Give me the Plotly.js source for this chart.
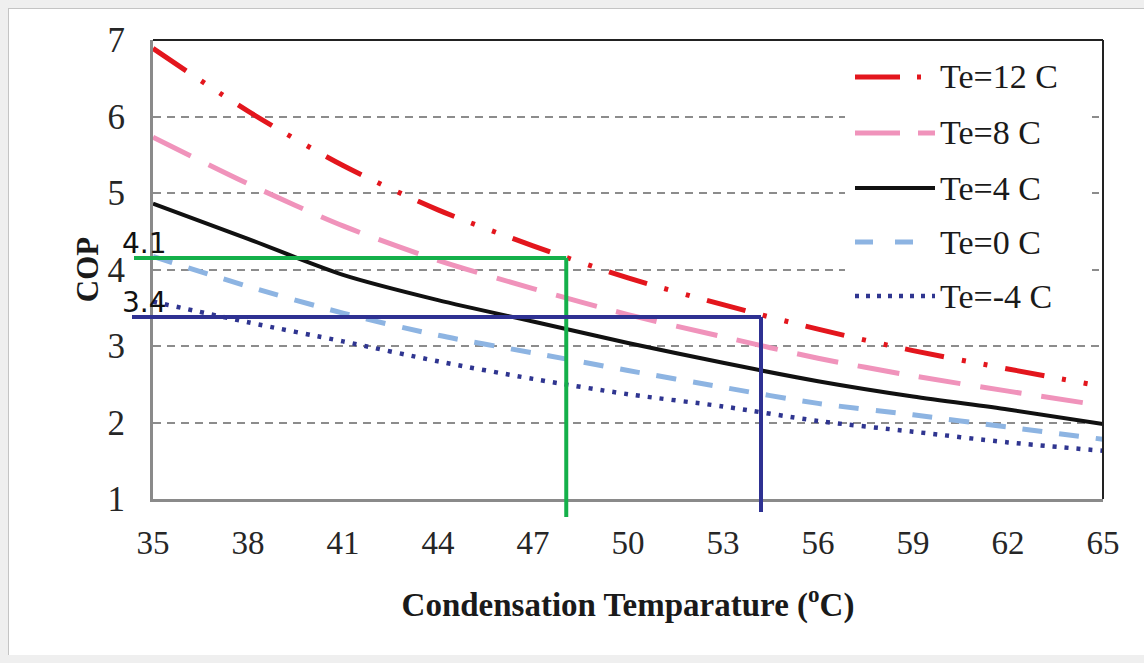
<!DOCTYPE html>
<html><head><meta charset="utf-8">
<script src="https://cdn.plot.ly/plotly-3.0.1.min.js"></script>
<style>
html,body{margin:0;padding:0;background:#efefef;width:1144px;height:663px;overflow:hidden;}
#chart{position:absolute;left:8px;top:8px;width:1135px;height:646px;border-left:1px solid #c4c4c4;border-top:1px solid #c4c4c4;background:#fff;}
</style></head><body><div id="chart"></div>
<script>
// ---- data ----
const condTemp = [35, 38, 41, 44, 47, 50, 53, 56, 59, 62, 65];
const copTe12 = [6.89, 6.07, 5.36, 4.78, 4.31, 3.89, 3.54, 3.22, 2.94, 2.70, 2.47];
const copTe8  = [5.73, 5.12, 4.57, 4.12, 3.75, 3.41, 3.12, 2.84, 2.61, 2.41, 2.22];
const copTe4  = [4.86, 4.40, 3.93, 3.60, 3.32, 3.04, 2.78, 2.54, 2.34, 2.17, 1.98];
const copTe0  = [4.17, 3.78, 3.43, 3.14, 2.91, 2.68, 2.46, 2.25, 2.10, 1.94, 1.78];
const copTeM4 = [3.58, 3.31, 3.06, 2.80, 2.57, 2.37, 2.21, 2.02, 1.88, 1.74, 1.63];
const seriesNames = ['Te=12 C', 'Te=8 C', 'Te=4 C', 'Te=0 C', 'Te=-4 C'];
const xTickVals = [35, 38, 41, 44, 47, 50, 53, 56, 59, 62, 65];
const yTickVals = [1, 2, 3, 4, 5, 6, 7];
const guideX = [48.05, 54.2];
const guideY = [4.15, 3.38];
const guideLabels = ['4.1', '3.4'];
const xTitle = 'Condensation Temparature (<sup>o</sup>C)';
const yTitle = 'COP';

// ---- styles ----
const seriesY = [copTe12, copTe8, copTe4, copTe0, copTeM4];
const colors = ['#e3161d', '#f093bb', '#111111', '#8db4e2', '#2f3590'];
const widths = [5, 5, 4, 5, 4.5];
const dashes = ['40px,18px,4px,18px,4px,18px', '42px,20px', 'solid', '20px,17px', '4px,8px'];
const legendDashes = ['45px,17px,4px,40px', '45px,18px', 'solid', '18px,22px', '4px,7px'];
const guideColors = ['#14b04a', '#2e3192'];
const guideOverLeftPx = [19, 21];
const guideOverBottomPx = [18, 13];

const W = 1135, H = 646;
const M = {l: 144, r: 41, t: 31, b: 156};
const PW = W - M.l - M.r, PH = H - M.t - M.b;
const xRange = [35, 65], yRange = [1, 7];
const xd = v => (v - xRange[0]) / (xRange[1] - xRange[0]);
const yd = v => (v - yRange[0]) / (yRange[1] - yRange[0]);

const traces = seriesY.map((ys, i) => ({
  x: condTemp, y: ys, name: seriesNames[i], type: 'scatter', mode: 'lines',
  line: {color: colors[i], width: widths[i], dash: dashes[i], shape: 'spline', smoothing: 0.8},
  showlegend: false, hoverinfo: 'skip'
}));

const shapes = [];
const annotations = [];
// legend background (covers gridlines; no curves pass through this area)
shapes.push({type: 'rect', xref: 'paper', yref: 'paper', layer: 'above',
  x0: (845 - 153) / PW, x1: (1092 - 153) / PW, y0: (499 - 312) / PH, y1: (499 - 50) / PH,
  fillcolor: '#ffffff', line: {width: 0}});
// top & right frame
shapes.push({type: 'line', xref: 'paper', yref: 'paper', x0: 0, x1: 1, y0: 1, y1: 1, line: {color: '#222', width: 2}});
shapes.push({type: 'line', xref: 'paper', yref: 'paper', x0: 1, x1: 1, y0: 0, y1: 1, line: {color: '#222', width: 2}});
// guide lines
guideX.forEach((gx, i) => {
  shapes.push({type: 'line', xref: 'paper', yref: 'y', x0: -guideOverLeftPx[i] / PW, x1: xd(gx), y0: guideY[i], y1: guideY[i],
    line: {color: guideColors[i], width: 4}});
  shapes.push({type: 'line', xref: 'x', yref: 'paper', x0: gx, x1: gx, y0: -guideOverBottomPx[i] / PH, y1: yd(guideY[i]),
    line: {color: guideColors[i], width: 4}});
  annotations.push({xref: 'paper', yref: 'y', x: -33 / PW, y: guideY[i], xanchor: 'left', yanchor: 'bottom',
    yshift: -4, showarrow: false, text: guideLabels[i],
    font: {family: 'DejaVu Sans, Verdana, sans-serif', size: 28, color: '#111'}});
});
// custom legend
const legRowsPx = [77, 133, 188, 242, 296];
seriesNames.forEach((nm, i) => {
  const yy = (499 - legRowsPx[i]) / PH;
  shapes.push({type: 'line', xref: 'paper', yref: 'paper', x0: (855 - 153) / PW, x1: (935 - 153) / PW, y0: yy, y1: yy,
    line: {color: colors[i], width: widths[i], dash: legendDashes[i]}});
  annotations.push({xref: 'paper', yref: 'paper', x: (938 - 153) / PW, y: yy, xanchor: 'left', yanchor: 'middle',
    showarrow: false, text: nm, font: {family: 'Liberation Serif, Times New Roman, serif', size: 34, color: '#1a1a1a'}});
});

const layout = {
  width: W, height: H, margin: M,
  paper_bgcolor: '#ffffff', plot_bgcolor: '#ffffff',
  showlegend: false,
  font: {family: 'Liberation Serif, Times New Roman, serif', color: '#222'},
  xaxis: {
    range: xRange, tickmode: 'array', tickvals: xTickVals, ticks: 'outside', ticklen: 12, tickwidth: 1,
    tickcolor: 'rgba(0,0,0,0)', showgrid: false, zeroline: false,
    showline: true, linecolor: '#8a8a8a', linewidth: 3,
    tickfont: {family: 'Liberation Serif, Times New Roman, serif', size: 33, color: '#262626'},
    title: {text: xTitle, standoff: 34, font: {family: 'Liberation Serif, Times New Roman, serif', size: 33, color: '#1a1a1a', weight: 'bold'}}
  },
  yaxis: {
    range: yRange, tickmode: 'array', tickvals: yTickVals, ticks: 'outside', ticklen: 18, tickwidth: 1,
    tickcolor: 'rgba(0,0,0,0)', zeroline: false,
    showgrid: true, gridcolor: '#8c8c8c', gridwidth: 2, griddash: '8px,6px',
    showline: true, linecolor: '#8a8a8a', linewidth: 3,
    tickfont: {family: 'Liberation Serif, Times New Roman, serif', size: 35, color: '#262626'},
    title: {text: yTitle, standoff: 0, font: {family: 'Liberation Serif, Times New Roman, serif', size: 31, color: '#1a1a1a', weight: 'bold'}}
  },
  shapes: shapes,
  annotations: annotations
};

Plotly.newPlot('chart', traces, layout, {staticPlot: true, displayModeBar: false});
</script></body></html>
